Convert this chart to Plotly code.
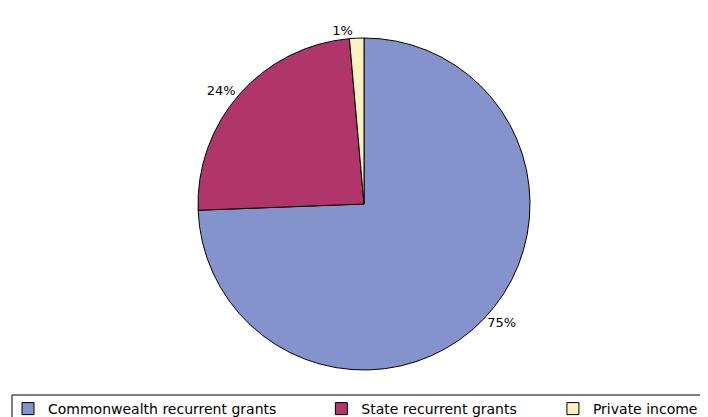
import plotly.graph_objects as go

categories = ["Commonwealth recurrent grants", "State recurrent grants", "Private income"]
shares = [74.4, 24.2, 1.4]
share_labels = ["75%", "24%", "1%"]
colors = ["#8593CC", "#AF356A", "#F9F2C0"]

# legend spacing (style only): trailing non-breaking spaces widen the first two legend entries
legend_pad = [9, 7, 0]
legend_names = [name + "\u00a0" * pad for name, pad in zip(categories, legend_pad)]

# the page body adds an 8px offset; positions below are given in window pixels
OFF = 8
W, H = 708 - OFF, 417


def px_x(sx):
    return (sx - OFF) / W


def px_y(sy):
    return 1 - (sy - OFF) / H


fig = go.Figure(
    go.Pie(
        labels=legend_names,
        values=shares,
        text=share_labels,
        textinfo="text",
        textposition="outside",
        sort=False,
        direction="clockwise",
        rotation=0,
        marker=dict(colors=colors, line=dict(color="black", width=1)),
        textfont=dict(family="DejaVu Sans", size=13, color="black"),
        domain=dict(x=[px_x(198), px_x(530)], y=[px_y(370), px_y(38)]),
        hoverinfo="label+percent",
    )
)

# legend frame: only its top and left edges fall inside the visible page
frame_left, frame_top = px_x(12), px_y(395)
fig.add_shape(type="line", xref="paper", yref="paper",
              x0=frame_left, x1=1, y0=frame_top, y1=frame_top,
              line=dict(color="black", width=1))
fig.add_shape(type="line", xref="paper", yref="paper",
              x0=frame_left, x1=frame_left, y0=0, y1=frame_top,
              line=dict(color="black", width=1))

fig.update_layout(
    width=W,
    height=H,
    margin=dict(l=0, r=0, t=0, b=0, autoexpand=False),
    paper_bgcolor="white",
    plot_bgcolor="white",
    showlegend=True,
    legend=dict(
        orientation="h",
        x=0,
        xanchor="left",
        y=0,
        yanchor="bottom",
        borderwidth=0,
        bgcolor="rgba(0,0,0,0)",
        font=dict(family="DejaVu Sans", size=14, color="black"),
    ),
)

fig.write_html("out.html")
